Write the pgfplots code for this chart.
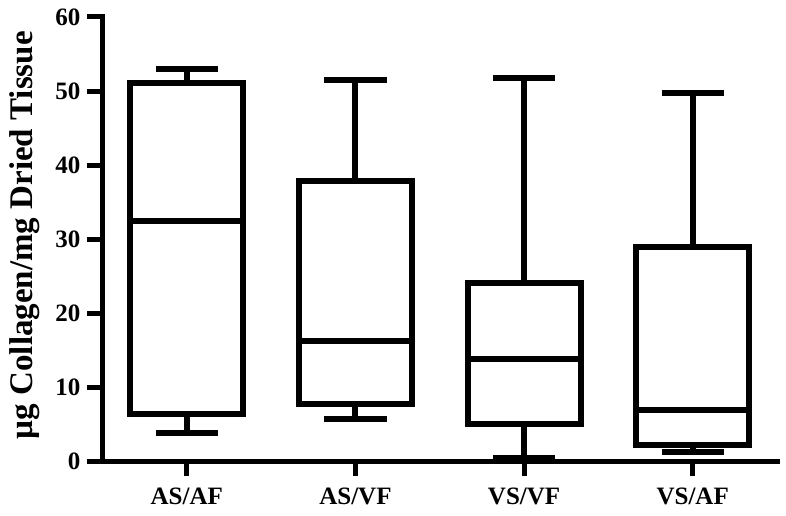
\documentclass[border=0pt]{standalone}
\usepackage{pgfplots}
\pgfplotsset{compat=1.18}
\usepgfplotslibrary{statistics}
\usepackage{fontspec}
\setmainfont{Liberation Serif}
\begin{document}
\begin{tikzpicture}
\begin{axis}[
  scale only axis,
  width=337.25pt, height=222.25pt,
  xmin=-0.5, xmax=3.5, ymin=0, ymax=60,
  axis lines*=left,
  axis line style={line width=2.5pt, line cap=rect},
  every tick/.style={black, line width=2.5pt},
  tick align=outside,
  major tick length=7.5pt,
  xtick={0,1,2,3},
  xticklabels={AS/AF, AS/VF, VS/VF, VS/AF},
  ytick={0,10,...,60},
  /pgf/number format/assume math mode=true,
  tick label style={font=\fontsize{12.5}{13}\selectfont\bfseries},
  xticklabel style={yshift=-2pt},
  ylabel={µg Collagen/mg Dried Tissue},
  ylabel style={font=\fontsize{16.5}{17}\selectfont\bfseries, at={(axis description cs:0,0.5)}, anchor=center, xshift=2pt, yshift=38.75pt},
  boxplot/draw direction=y,
  boxplot/box extend=0.67,
  boxplot/whisker extend=0.37,
  clip=false,
]
\addplot+[black, line width=3pt, mark=none, solid,
  boxplot prepared={draw position=0, lower whisker=3.9, lower quartile=6.4, median=32.4, upper quartile=51.1, upper whisker=53.0}]
  coordinates {};
\addplot+[black, line width=3pt, mark=none, solid,
  boxplot prepared={draw position=1, lower whisker=5.7, lower quartile=7.75, median=16.2, upper quartile=37.8, upper whisker=51.5}]
  coordinates {};
\addplot+[black, line width=3pt, mark=none, solid,
  boxplot prepared={draw position=2, lower whisker=0.5, lower quartile=5.1, median=13.9, upper quartile=24.1, upper whisker=51.7}]
  coordinates {};
\addplot+[black, line width=3pt, mark=none, solid,
  boxplot prepared={draw position=3, lower whisker=1.3, lower quartile=2.2, median=6.9, upper quartile=29.0, upper whisker=49.7}]
  coordinates {};
\end{axis}
\pgfresetboundingbox
\path (current axis.south west) ++(-51.25pt,-27.25pt) coordinate (A);
\path (current axis.north east) ++(4.5pt,8.5pt) coordinate (B);
\path[use as bounding box] (A) rectangle (B);
\end{tikzpicture}
\end{document}
